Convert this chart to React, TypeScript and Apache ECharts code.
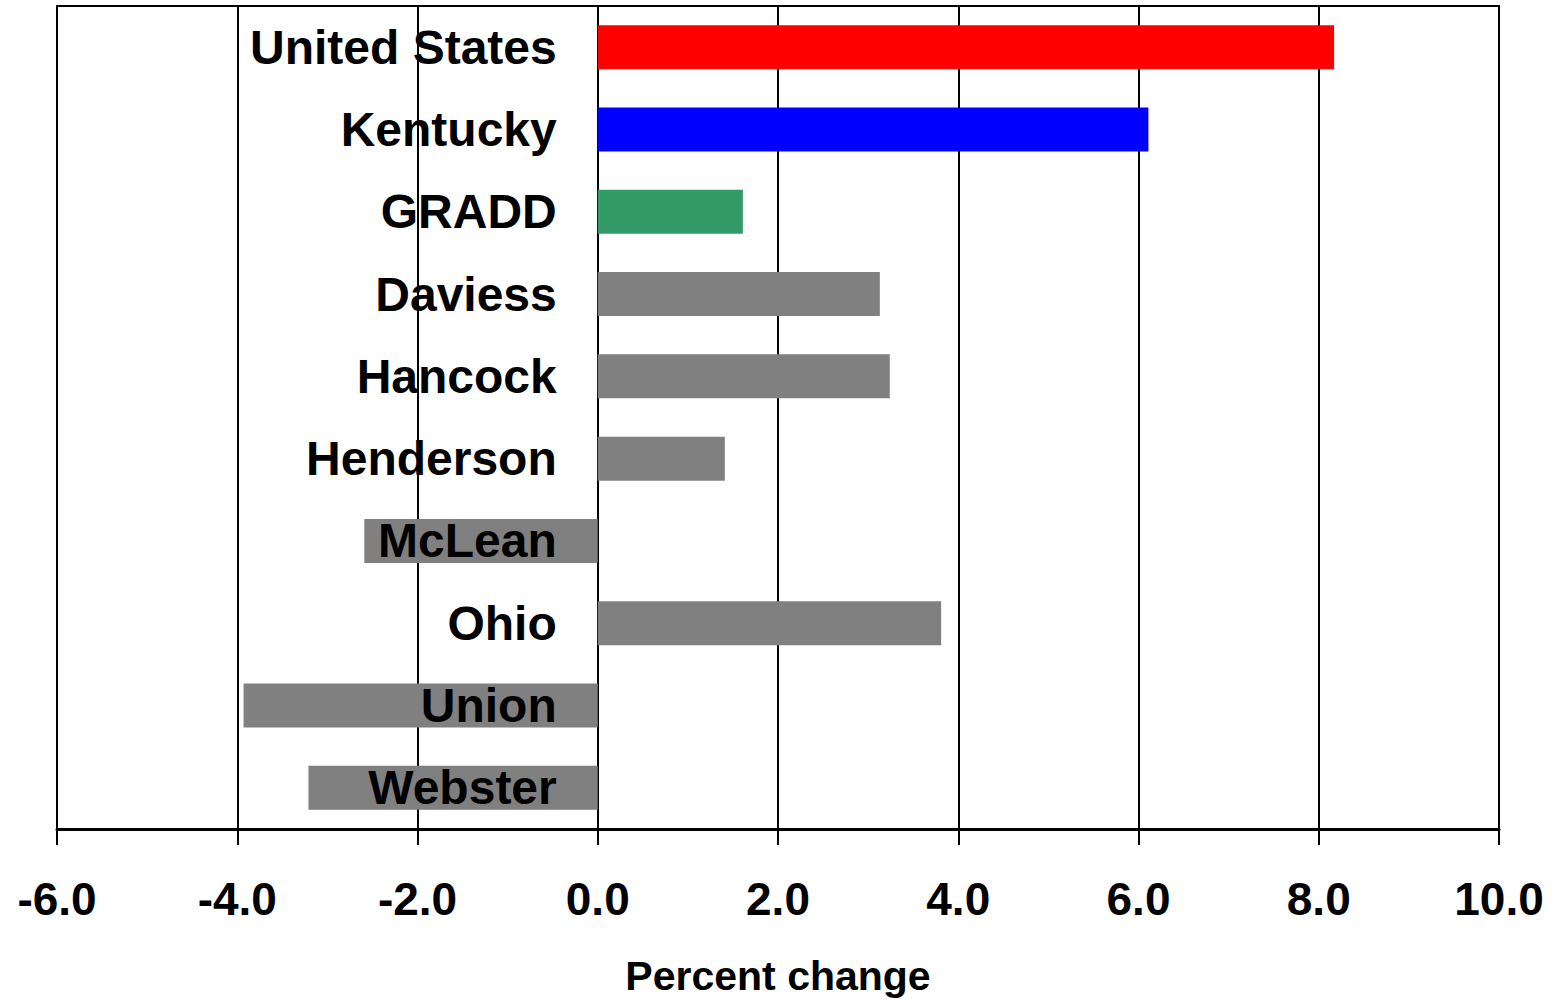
import React, { useEffect, useRef } from "react";
import * as echarts from "echarts";

const categories = ["United States", "Kentucky", "GRADD", "Daviess", "Hancock", "Henderson", "McLean", "Ohio", "Union", "Webster"];
const values = [8.17, 6.11, 1.61, 3.13, 3.24, 1.41, -2.59, 3.81, -3.93, -3.21];
const barColors = ["#FF0000", "#0000FF", "#339966", "#808080", "#808080", "#808080", "#808080", "#808080", "#808080", "#808080"];
const xMin = -6;
const xMax = 10;
const xStep = 2;
const axisTitle = "Percent change";

const FONT = "'Liberation Sans', Arial, sans-serif";

export default function App() {
  const ref = useRef<HTMLDivElement>(null);
  useEffect(() => {
    document.body.style.margin = "0";
    const chart = echarts.init(ref.current!, null, { renderer: "svg" });
    const left = 57;
    const right = 63;
    const width = 1562 - left - right;
    const zeroOffset = ((0 - xMin) / (xMax - xMin)) * width;
    chart.setOption({
      animation: false,
      backgroundColor: "#ffffff",
      grid: {
        left,
        right,
        top: 6,
        bottom: 170,
        containLabel: false,
        outerBoundsMode: "none",
        show: true,
        borderColor: "#000",
        borderWidth: 2,
        backgroundColor: "transparent",
      },
      xAxis: {
        type: "value",
        min: xMin,
        max: xMax,
        interval: xStep,
        axisLine: { show: true, lineStyle: { color: "#000", width: 3 } },
        axisTick: { show: true, length: 16, lineStyle: { color: "#000", width: 2 } },
        splitLine: { show: true, lineStyle: { color: "#000", width: 2 } },
        axisLabel: {
          color: "#000",
          fontSize: 46,
          fontWeight: "bold",
          fontFamily: FONT,
          margin: 47,
          formatter: (v: number) => v.toFixed(1),
        },
        name: axisTitle,
        nameLocation: "middle",
        nameGap: 126,
        nameTextStyle: { color: "#000", fontSize: 41, lineHeight: 41, fontWeight: "bold", fontFamily: FONT },
      },
      yAxis: {
        type: "category",
        data: categories,
        inverse: true,
        position: "left",
        offset: -zeroOffset,
        z: 10,
        axisLine: { show: false, onZero: false },
        axisTick: { show: false },
        splitLine: { show: false },
        axisLabel: {
          color: "#000",
          fontSize: 48,
          fontWeight: "bold",
          fontFamily: FONT,
          margin: 41,
        },
      },
      series: [
        {
          type: "bar",
          data: values.map((v, i) => ({ value: v, itemStyle: { color: barColors[i] } })),
          barWidth: 44,
          z: 2,
        },
      ],
    });
    return () => chart.dispose();
  }, []);
  return <div ref={ref} style={{ width: 1562, height: 999 }} />;
}
